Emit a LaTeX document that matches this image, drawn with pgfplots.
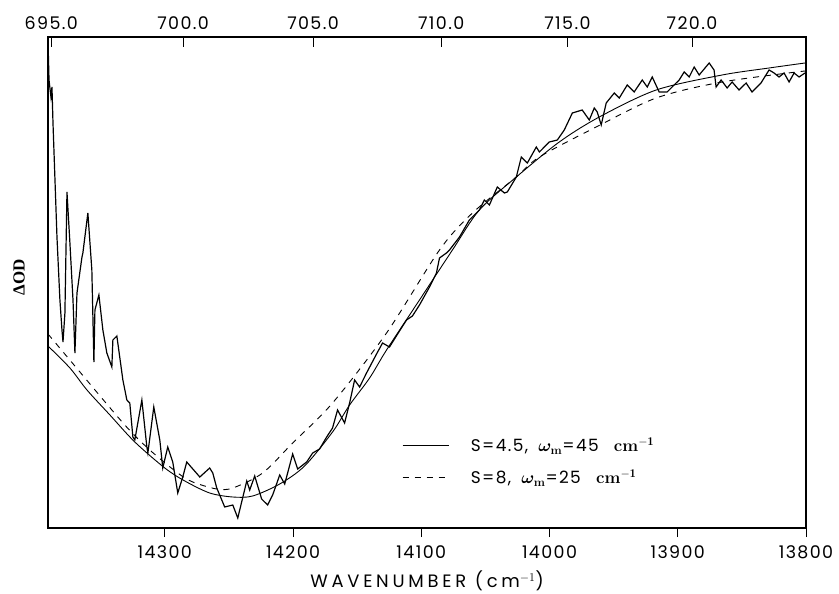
\documentclass[border=0pt]{standalone}
\usepackage{pgfplots}
\pgfplotsset{compat=1.18}
\usepackage{fontspec}
\newfontfamily\plotfont{Poppins}[LetterSpace=8]
\newfontfamily\labfont{Poppins}[LetterSpace=21]
\newfontfamily\serifb{Liberation Serif}
\protected\def\legA{{\plotfont S=4.5,}\ \ \mbox{\boldmath$\omega_{\mathbf{m}}$}{\plotfont =45}\ \ \ \textbf{cm}$^{\mathbf{-1}}$}
\protected\def\legB{{\plotfont S=8,}\ \ \mbox{\boldmath$\omega_{\mathbf{m}}$}{\plotfont =25}\ \ \ \textbf{cm}$^{\mathbf{-1}}$}
\protected\def\dOD{{\serifb\bfseries ΔOD}}
\begin{document}
\begin{tikzpicture}
\begin{axis}[
  name=main,
  scale only axis, width=758bp, height=491bp,
  x dir=reverse, xmin=13800, xmax=14391.1,
  ymin=0, ymax=4.91,
  scaled x ticks=false,
  xtick={13800,13900,14000,14100,14200,14300},
  xticklabels={13800,13900,14000,14100,14200,14300},
  ytick=\empty,
  xtick pos=left,
  xtick align=outside,
  major tick length=9bp,
  tick style={line width=1bp, black},
  axis line style={line width=1.1bp},
  xticklabel style={font=\plotfont\fontsize{17.5}{17.5}\selectfont, anchor=center, yshift=-15bp},
  xlabel={WAVENUMBER (cm$^{-1}$)},
  xlabel style={font=\labfont\fontsize{18}{18}\selectfont, at={(axis description cs:0.5,-0.1215)}, anchor=base},
  ylabel={\dOD},
  ylabel style={font=\fontsize{17}{17}\selectfont, at={(axis description cs:-0.038,0.511)}, anchor=center},
  legend style={at={(axis description cs:0.463,0.192)}, anchor=north west, draw=none, fill=none,
    font=\fontsize{17}{17}\selectfont, row sep=12.5bp,
    /tikz/every odd column/.append style={column sep=20bp}},
  legend image post style={xscale=2.7},
  legend cell align=left,
]
% measured data
\addplot[black, line width=1.2bp, forget plot] table {
14391.1 4.88
14390.3 4.48
14388.8 4.31
14388.0 4.41
14387.2 4.05
14384.1 2.91
14381.8 2.28
14380.2 1.98
14379.4 1.86
14377.9 2.15
14376.3 3.36
14374.0 2.85
14371.6 2.28
14370.1 1.75
14368.5 2.35
14364.6 2.71
14363.9 2.75
14360.0 3.15
14356.9 2.58
14355.3 1.66
14354.5 2.18
14351.4 2.33
14348.3 1.98
14345.2 1.75
14341.3 1.61
14340.5 1.88
14337.4 1.92
14332.7 1.48
14329.6 1.28
14327.3 1.25
14324.9 0.91
14323.4 0.88
14317.9 1.28
14314.0 0.81
14313.2 0.75
14308.6 1.21
14303.9 0.88
14301.6 0.60
14297.7 0.81
14293.8 0.66
14289.9 0.35
14286.0 0.51
14282.9 0.66
14272.7 0.51
14265.0 0.60
14262.6 0.55
14259.5 0.40
14253.3 0.21
14247.0 0.23
14243.1 0.10
14236.1 0.47
14233.8 0.38
14229.9 0.52
14224.5 0.29
14219.8 0.23
14215.9 0.33
14210.4 0.53
14206.5 0.44
14200.3 0.74
14196.4 0.59
14189.4 0.66
14184.7 0.75
14179.3 0.79
14173.8 0.91
14169.2 1.00
14165.3 1.18
14159.8 1.05
14155.9 1.25
14152.0 1.48
14148.1 1.41
14142.7 1.55
14134.9 1.74
14130.2 1.85
14124.8 1.81
14117.0 1.97
14111.5 2.08
14106.9 2.12
14101.4 2.23
14093.6 2.41
14088.2 2.55
14085.8 2.70
14080.4 2.75
14078.0 2.78
14070.2 2.91
14062.5 3.08
14054.7 3.18
14050.8 3.28
14046.9 3.23
14040.7 3.41
14035.2 3.35
14032.9 3.36
14025.9 3.51
14022.0 3.71
14017.3 3.65
14010.3 3.81
14007.9 3.76
14000.2 3.86
13993.9 3.88
13988.5 3.98
13982.2 4.15
13974.5 4.18
13969.0 4.08
13965.1 4.20
13962.8 4.16
13959.7 4.03
13955.8 4.25
13949.5 4.35
13945.6 4.30
13939.4 4.43
13934.0 4.36
13927.7 4.48
13923.8 4.41
13919.9 4.51
13914.5 4.36
13908.3 4.36
13904.4 4.41
13898.9 4.48
13895.0 4.56
13891.1 4.51
13887.2 4.61
13883.3 4.53
13875.5 4.65
13871.7 4.58
13870.1 4.41
13866.2 4.48
13861.5 4.40
13857.6 4.46
13852.2 4.38
13846.7 4.45
13842.1 4.36
13835.1 4.45
13828.8 4.58
13824.9 4.55
13821.0 4.51
13817.1 4.55
13813.2 4.46
13809.3 4.55
13805.4 4.51
13800.8 4.55
};
% fit S=4.5
\addplot[black, line width=0.9bp, smooth] table {
14391.1 1.82
14374.0 1.60
14360.7 1.38
14342.8 1.13
14323.4 0.86
14300.0 0.60
14284.4 0.47
14265.0 0.35
14247.0 0.31
14231.5 0.32
14210.4 0.44
14191.0 0.62
14169.2 0.96
14155.9 1.23
14140.3 1.50
14127.1 1.78
14101.4 2.28
14075.7 2.78
14054.7 3.18
14025.9 3.51
13992.4 3.86
13961.2 4.11
13916.8 4.38
13865.4 4.53
13828.8 4.60
13800.8 4.65
};
\addlegendentry{\legA}
% fit S=8
\addplot[black, line width=0.9bp, smooth, dash pattern=on 6bp off 6bp] table {
14391.1 1.94
14366.2 1.56
14331.2 1.03
14311.7 0.78
14289.9 0.55
14278.2 0.46
14259.5 0.39
14247.0 0.40
14223.7 0.55
14200.3 0.85
14169.2 1.25
14127.1 1.95
14085.8 2.78
14060.1 3.15
14025.9 3.51
14007.9 3.71
13963.6 4.01
13916.8 4.30
13865.4 4.46
13800.8 4.57
};
\addlegendentry{\legB}
\end{axis}
\begin{axis}[
  scale only axis, width=758bp, height=491bp,
  x dir=reverse, xmin=13800, xmax=14391.1,
  ymin=0, ymax=1,
  scaled x ticks=false,
  axis x line*=top, axis y line=none,
  xtick={14388.489,14285.714,14184.397,14084.507,13986.014,13888.889},
  xticklabels={695.0,700.0,705.0,710.0,715.0,720.0},
  xtick align=inside,
  major tick length=10bp,
  tick style={line width=1bp, black},
  axis line style={line width=1.1bp},
  xticklabel style={font=\plotfont\fontsize{17.5}{17.5}\selectfont, anchor=center, yshift=14bp},
]
\addplot[draw=none, forget plot] coordinates {(14000,0.5)};
\end{axis}
\pgfresetboundingbox
\path[use as bounding box] ([shift={(-48bp,-66bp)}]main.south west) rectangle ([shift={(33bp,37bp)}]main.north east);
\end{tikzpicture}
\end{document}
